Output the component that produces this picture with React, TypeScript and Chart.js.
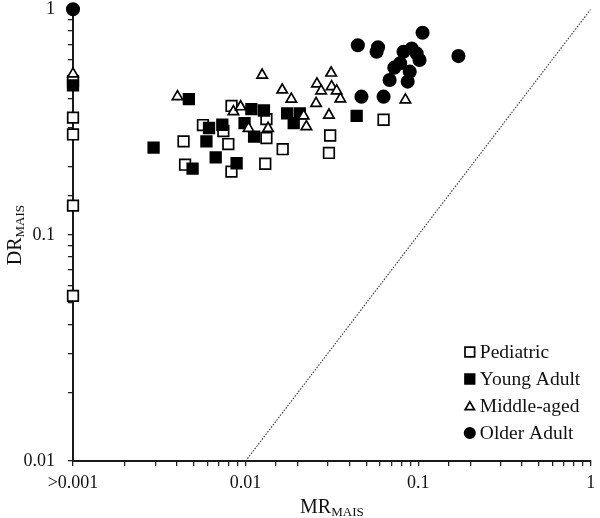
import React, { useEffect, useRef } from 'react';
import { Chart, registerables } from 'chart.js';

Chart.register(...registerables);

// ---- Data (MR_MAIS, DR_MAIS) ----
const SERIES_NAMES = ['Pediatric', 'Young Adult', 'Middle-aged', 'Older Adult'];

const pediatric: [number, number][] = [
  [0.001, 0.48], [0.001, 0.331], [0.001, 0.279], [0.001, 0.135], [0.001, 0.0538],
  [0.00829, 0.373], [0.00566, 0.307], [0.00743, 0.289], [0.00437, 0.26], [0.00794, 0.253],
  [0.00446, 0.205], [0.00828, 0.191], [0.0132, 0.326], [0.0132, 0.269], [0.0164, 0.24],
  [0.013, 0.207], [0.0309, 0.276], [0.0304, 0.231], [0.063, 0.324],
];

const youngAdult: [number, number][] = [
  [0.001, 0.46], [0.00469, 0.4], [0.00293, 0.244], [0.00614, 0.298], [0.00733, 0.308],
  [0.00593, 0.26], [0.00671, 0.221], [0.00493, 0.197], [0.00887, 0.208], [0.0108, 0.361],
  [0.01277, 0.356], [0.00986, 0.313], [0.0112, 0.273], [0.0174, 0.346], [0.0206, 0.346],
  [0.019, 0.313], [0.044, 0.337],
];

const middleAged: [number, number][] = [
  [0.001, 0.517], [0.00403, 0.41], [0.0085, 0.352], [0.00936, 0.37], [0.0104, 0.297],
  [0.0135, 0.297], [0.01247, 0.511], [0.0163, 0.439], [0.0184, 0.4], [0.0259, 0.467],
  [0.0256, 0.383], [0.0217, 0.337], [0.0225, 0.302], [0.0313, 0.522], [0.0274, 0.435],
  [0.0315, 0.454], [0.0337, 0.435], [0.0354, 0.401], [0.0304, 0.34], [0.0843, 0.397],
];

const olderAdult: [number, number][] = [
  [0.001, 1.0], [0.0447, 0.693], [0.0585, 0.678], [0.0574, 0.648], [0.106, 0.786],
  [0.0822, 0.648], [0.0917, 0.67], [0.098, 0.637], [0.1018, 0.596], [0.0786, 0.576],
  [0.0727, 0.551], [0.0893, 0.529], [0.0683, 0.486], [0.0869, 0.478], [0.171, 0.62],
  [0.0469, 0.41], [0.063, 0.41],
];

// y = x reference line
const diagonal: [number, number][] = [[0.01, 0.01], [1, 1]];

const X_TICK_VALUES = [0.001, 0.01, 0.1, 1];
const X_TICK_LABELS = ['>0.001', '0.01', '0.1', '1'];
const Y_TICK_VALUES = [0.01, 0.1, 1];
const Y_TICK_LABELS = ['0.01', '0.1', '1'];

const X_TITLE = ['MR', 'MAIS'];
const Y_TITLE = ['DR', 'MAIS'];

const FONT = "'Liberation Serif', 'Times New Roman', serif";
const INK = '#111';

const STYLES = [
  { pointStyle: 'rect', fill: '#ffffff', radius: 7.5 },
  { pointStyle: 'rect', fill: '#000000', radius: 7.5 },
  { pointStyle: 'triangle', fill: '#ffffff', radius: 6 },
  { pointStyle: 'circle', fill: '#000000', radius: 6.2 },
];

const toXY = (arr: [number, number][]) => arr.map(([x, y]) => ({ x, y }));

const labelFor = (values: number[], labels: string[]) => (value: any) => {
  const v = Number(value);
  const i = values.findIndex((t) => Math.abs(Math.log10(t) - Math.log10(v)) < 1e-6);
  return i >= 0 ? labels[i] : '';
};

function drawMarker(ctx: CanvasRenderingContext2D, style: string, x: number, y: number, fill: string) {
  ctx.save();
  ctx.fillStyle = fill;
  ctx.strokeStyle = '#000';
  ctx.lineWidth = 1.7;
  ctx.beginPath();
  if (style === 'rect') {
    const s = 4.8;
    ctx.rect(x - s, y - s, 2 * s, 2 * s);
  } else if (style === 'triangle') {
    const r = 5.4;
    for (let k = 0; k < 3; k++) {
      const a = (k * 2 * Math.PI) / 3;
      const px = x + Math.sin(a) * r;
      const py = y + 1 - Math.cos(a) * r;
      if (k === 0) ctx.moveTo(px, py);
      else ctx.lineTo(px, py);
    }
    ctx.closePath();
  } else {
    ctx.arc(x, y, 5.2, 0, Math.PI * 2);
  }
  ctx.fill();
  ctx.stroke();
  ctx.restore();
}

const overlayPlugin = {
  id: 'overlay',
  afterDraw(chart: any) {
    const { ctx, chartArea } = chart;
    ctx.save();
    ctx.fillStyle = INK;
    ctx.textAlign = 'left';
    ctx.textBaseline = 'alphabetic';
    const big = `20px ${FONT}`;
    const small = `13px ${FONT}`;

    // X axis title with subscript
    ctx.font = big;
    const w1 = ctx.measureText(X_TITLE[0]).width;
    ctx.font = small;
    const w2 = ctx.measureText(X_TITLE[1]).width;
    const cx = (chartArea.left + chartArea.right) / 2;
    const x0 = cx - (w1 + w2) / 2;
    const by = 513;
    ctx.font = big;
    ctx.fillText(X_TITLE[0], x0, by);
    ctx.font = small;
    ctx.fillText(X_TITLE[1], x0 + w1, by + 3);

    // Y axis title rotated
    ctx.save();
    ctx.translate(21, (chartArea.top + chartArea.bottom) / 2);
    ctx.rotate(-Math.PI / 2);
    ctx.font = big;
    const v1 = ctx.measureText(Y_TITLE[0]).width;
    ctx.font = small;
    const v2 = ctx.measureText(Y_TITLE[1]).width;
    const s0 = -(v1 + v2) / 2;
    ctx.font = big;
    ctx.fillText(Y_TITLE[0], s0, 0);
    ctx.font = small;
    ctx.fillText(Y_TITLE[1], s0 + v1, 3);
    ctx.restore();

    // Legend
    const lx = chartArea.right - 121;
    const ly0 = 352;
    const step = 27;
    ctx.font = `19.5px ${FONT}`;
    ctx.textBaseline = 'middle';
    SERIES_NAMES.forEach((name, i) => {
      const y = ly0 + i * step;
      drawMarker(ctx, STYLES[i].pointStyle, lx, y, STYLES[i].fill);
      ctx.fillStyle = INK;
      ctx.fillText(name, lx + 10, y + 1);
    });
    ctx.restore();
  },
};

export default function App() {
  const ref = useRef<HTMLCanvasElement | null>(null);

  useEffect(() => {
    if (!ref.current) return;
    const seriesData = [pediatric, youngAdult, middleAged, olderAdult];
    const datasets: any[] = seriesData.map((d, i) => ({
      label: SERIES_NAMES[i],
      data: toXY(d),
      pointStyle: STYLES[i].pointStyle,
      pointRadius: STYLES[i].radius,
      pointBackgroundColor: STYLES[i].fill,
      pointBorderColor: '#000',
      pointBorderWidth: 1.7,
      showLine: false,
      clip: false,
      order: 4 - i,
    }));
    datasets.push({
      label: 'y = x',
      data: toXY(diagonal),
      showLine: true,
      borderColor: '#333',
      borderWidth: 1.1,
      borderDash: [1.5, 1.5],
      pointRadius: 0,
      fill: false,
      order: 10,
    });

    const tickFont = { family: FONT, size: 18 };

    const chart = new Chart(ref.current, {
      type: 'scatter',
      data: { datasets },
      options: {
        animation: false,
        responsive: false,
        layout: { padding: { top: 8, right: 7, left: 0, bottom: 0 } },
        plugins: {
          legend: { display: false },
          tooltip: { enabled: false },
        },
        scales: {
          x: {
            type: 'logarithmic',
            min: 0.001,
            max: 1,
            border: { display: true, color: '#1a1a1a', width: 2 },
            grid: { display: true, drawOnChartArea: false, drawTicks: true, tickLength: 5, color: '#222', lineWidth: 1.3 },
            ticks: {
              autoSkip: false,
              maxRotation: 0,
              minRotation: 0,
              padding: 6,
              color: INK,
              font: tickFont,
              callback: labelFor(X_TICK_VALUES, X_TICK_LABELS),
            },
            afterFit: (scale: any) => {
              scale.height = 57;
              scale.paddingLeft = 0;
              scale.paddingRight = 0;
            },
          },
          y: {
            type: 'logarithmic',
            min: 0.01,
            max: 1,
            border: { display: true, color: '#1a1a1a', width: 2 },
            grid: { display: true, drawOnChartArea: false, drawTicks: true, tickLength: 5, color: '#222', lineWidth: 1.3 },
            ticks: {
              autoSkip: false,
              padding: 13,
              color: INK,
              font: tickFont,
              callback: labelFor(Y_TICK_VALUES, Y_TICK_LABELS),
            },
            afterFit: (scale: any) => {
              scale.width = 73;
              scale.paddingTop = 0;
              scale.paddingBottom = 0;
            },
          },
        },
      },
      plugins: [overlayPlugin],
    } as any);

    return () => chart.destroy();
  }, []);

  return (
    <div style={{ position: 'absolute', left: 0, top: 0, width: 600, height: 518, background: '#fff' }}>
      <canvas ref={ref} width={600} height={518} style={{ width: 600, height: 518, display: 'block' }} />
    </div>
  );
}
